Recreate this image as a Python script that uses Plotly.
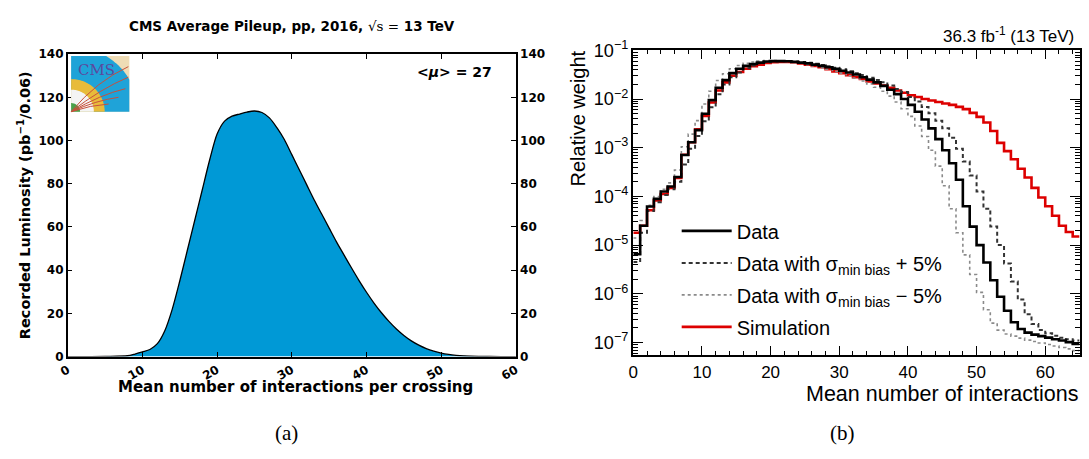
import math
import plotly.graph_objects as go

W, H = 1089, 459

# ---------------- Panel (a): average pileup ----------------
lumi_mu = [0, 5, 8, 9, 10, 11, 12, 13, 14, 15, 16, 17, 18, 19, 20, 21, 22, 23, 24, 25,
           26, 27, 28, 29, 30, 31, 32, 33, 34, 35, 36, 37, 38, 39, 40, 41, 42, 43, 44,
           45, 46, 47, 48, 49, 50, 51, 52, 53, 55, 58, 60]
lumi_val = [0, 0.1, 0.4, 1.2, 2.2, 3.3, 6.0, 12, 22, 35, 49, 63, 77, 91, 103, 109, 111.3,
            112.3, 113.2, 113.7, 113, 110.5, 106, 100.5, 93.5, 86.5, 79.5, 72.5, 66, 59.5,
            53, 47, 41, 35.2, 29.8, 24.8, 20.3, 16.3, 12.8, 9.8, 7.3, 5.3, 3.7, 2.5, 1.6,
            1.0, 0.6, 0.35, 0.12, 0.02, 0]
a_xticks = [0, 10, 20, 30, 40, 50, 60]
a_yticks = [0, 20, 40, 60, 80, 100, 120, 140]

# ---------------- Panel (b): relative weights ----------------
bin_edges = list(range(0, 66))
data_w = [6.5e-6, 2.5e-5, 6.2e-5, 8.9e-5, 1.26e-4, 1.6e-4, 2.5e-4, 7.1e-4, 1.3e-3, 2.3e-3,
          5.0e-3, 9.5e-3, 1.7e-2, 2.45e-2, 3.4e-2, 4.2e-2, 4.8e-2, 5.25e-2, 5.6e-2, 5.9e-2,
          6.0e-2, 6.0e-2, 5.95e-2, 5.8e-2, 5.6e-2, 5.4e-2, 5.1e-2, 4.8e-2, 4.5e-2, 4.2e-2,
          3.8e-2, 3.5e-2, 3.2e-2, 2.8e-2, 2.5e-2, 2.2e-2, 1.86e-2, 1.55e-2, 1.26e-2, 1.0e-2,
          7.6e-3, 5.5e-3, 3.8e-3, 2.5e-3, 1.5e-3, 8.9e-4, 4.8e-4, 2.2e-4, 6.3e-5, 2.4e-5,
          1.0e-5, 4.4e-6, 1.9e-6, 8.7e-7, 4.5e-7, 2.6e-7, 1.9e-7, 1.6e-7, 1.45e-7, 1.35e-7,
          1.26e-7, 1.17e-7, 1.1e-7, 1.02e-7, 9.3e-8]
plus5_w = [4.5e-6, 1.8e-5, 5.0e-5, 7.6e-5, 1.07e-4, 1.4e-4, 2.0e-4, 4.5e-4, 9.5e-4, 1.74e-3,
           3.5e-3, 6.8e-3, 1.26e-2, 2.0e-2, 2.8e-2, 3.5e-2, 4.3e-2, 4.9e-2, 5.4e-2, 5.7e-2,
           5.9e-2, 5.95e-2, 5.95e-2, 5.9e-2, 5.75e-2, 5.55e-2, 5.3e-2, 5.0e-2, 4.7e-2, 4.4e-2,
           4.1e-2, 3.7e-2, 3.4e-2, 3.1e-2, 2.75e-2, 2.45e-2, 2.2e-2, 1.9e-2, 1.6e-2, 1.4e-2,
           1.1e-2, 8.9e-3, 6.9e-3, 5.1e-3, 3.6e-3, 2.5e-3, 1.6e-3, 9.5e-4, 5.2e-4, 2.7e-4,
           1.26e-4, 5.6e-5, 2.4e-5, 1.0e-5, 4.2e-6, 1.8e-6, 7.6e-7, 3.8e-7, 2.4e-7, 1.8e-7,
           1.55e-7, 1.38e-7, 1.26e-7, 1.17e-7, 1.1e-7]
minus5_w = [1.4e-5, 3.2e-5, 6.6e-5, 1.0e-4, 1.4e-4, 1.9e-4, 3.5e-4, 1.05e-3, 1.9e-3, 3.6e-3,
            7.9e-3, 1.45e-2, 2.4e-2, 3.3e-2, 4.2e-2, 4.9e-2, 5.4e-2, 5.75e-2, 6.0e-2, 6.15e-2,
            6.15e-2, 6.1e-2, 5.9e-2, 5.7e-2, 5.45e-2, 5.1e-2, 4.8e-2, 4.4e-2, 4.1e-2, 3.7e-2,
            3.4e-2, 3.0e-2, 2.7e-2, 2.35e-2, 2.05e-2, 1.75e-2, 1.45e-2, 1.15e-2, 8.7e-3, 6.3e-3,
            4.4e-3, 2.8e-3, 1.7e-3, 8.9e-4, 4.2e-4, 1.66e-4, 5.6e-5, 1.8e-5, 6.3e-6, 2.5e-6,
            1.07e-6, 4.7e-7, 2.5e-7, 1.8e-7, 1.5e-7, 1.35e-7, 1.23e-7, 1.12e-7, 1.05e-7, 9.8e-8,
            9.1e-8, 8.5e-8, 7.9e-8, 7.4e-8, 6.8e-8]
sim_w = [1.8e-5, 2.5e-5, 5.2e-5, 8.3e-5, 1.12e-4, 1.5e-4, 2.4e-4, 7.2e-4, 1.3e-3, 2.4e-3,
         4.5e-3, 8.5e-3, 1.5e-2, 2.2e-2, 3.0e-2, 3.6e-2, 4.2e-2, 4.7e-2, 5.1e-2, 5.5e-2,
         5.7e-2, 5.8e-2, 5.8e-2, 5.7e-2, 5.4e-2, 5.1e-2, 4.8e-2, 4.5e-2, 4.1e-2, 3.7e-2,
         3.4e-2, 3.1e-2, 2.8e-2, 2.6e-2, 2.3e-2, 2.1e-2, 1.9e-2, 1.7e-2, 1.5e-2, 1.35e-2,
         1.2e-2, 1.1e-2, 1.0e-2, 9.3e-3, 8.7e-3, 8.1e-3, 7.6e-3, 6.9e-3, 6.2e-3, 5.2e-3,
         4.3e-3, 3.3e-3, 2.2e-3, 1.26e-3, 8.5e-4, 5.8e-4, 3.7e-4, 2.45e-4, 1.5e-4, 9.5e-5,
         6.3e-5, 4.0e-5, 2.5e-5, 1.86e-5, 1.5e-5]
b_xticks = [0, 10, 20, 30, 40, 50, 60]

# ---------------- geometry helpers (pixels -> paper) ----------------
def px(x):
    return x / W

def py(y):
    return 1 - y / H

A_X0, A_X1, A_Y0, A_Y1 = 58.5, 513, 44, 359.5
B_X0, B_X1, B_Y0, B_Y1 = 632, 1084.5, 40, 358

fig = go.Figure()

# Panel (a) filled curve
fig.add_trace(go.Scatter(
    x=lumi_mu, y=lumi_val, mode="lines", fill="tozeroy",
    fillcolor="#0099d6", line=dict(color="black", width=1.3, shape="spline", smoothing=0.8),
    xaxis="x", yaxis="y", showlegend=False, hoverinfo="skip"))
# invisible trace for the right-hand y axis of panel (a)
fig.add_trace(go.Scatter(x=[0], y=[0], mode="markers", marker=dict(opacity=0),
                         xaxis="x", yaxis="y2", showlegend=False, hoverinfo="skip"))

# Panel (b) step histograms
def steps(vals):
    return list(vals) + [vals[-1]]

series = [
    ("Simulation", sim_w, dict(color="#dd0000", width=2.6), 4),
    ("Data with σ<sub>min bias</sub> − 5%", minus5_w, dict(color="#8a8a8a", width=1.6, dash="dot"), 3),
    ("Data with σ<sub>min bias</sub> + 5%", plus5_w, dict(color="#333333", width=2.0, dash="4px,3px"), 2),
    ("Data", data_w, dict(color="black", width=2.6), 1),
]
for name, vals, ln, rank in series:
    fig.add_trace(go.Scatter(
        x=bin_edges, y=steps(vals), mode="lines", name=name, legendgroup=f"g{rank}",
        line=dict(shape="hv", **ln), xaxis="x3", yaxis="y3", legendrank=rank,
        hoverinfo="skip"))

bold_dv = dict(family="DejaVu Sans", size=12, color="black", weight="bold")
helv = "Liberation Sans"

fig.update_layout(
    width=W, height=H, margin=dict(l=0, r=0, t=0, b=0),
    paper_bgcolor="white", plot_bgcolor="white",
    xaxis=dict(domain=[px(A_X0), px(A_X1)], range=[0, 60], tickvals=a_xticks,
               ticks="inside", ticklen=5, tickwidth=1, tickcolor="black",
               showline=True, linecolor="black", linewidth=1.5, mirror="ticks",
               showgrid=False, zeroline=False, tickangle=-30, tickfont=bold_dv,
               anchor="y"),
    yaxis=dict(domain=[py(A_Y1), py(A_Y0)], range=[0, 140], tickvals=a_yticks,
               ticks="inside", ticklen=5, tickcolor="black",
               showline=True, linecolor="black", linewidth=1.5,
               showgrid=False, zeroline=False, tickfont=bold_dv, anchor="x"),
    yaxis2=dict(domain=[py(A_Y1), py(A_Y0)], range=[0, 140], tickvals=a_yticks,
                overlaying="y", side="right", anchor="x",
                ticks="inside", ticklen=5, tickcolor="black",
                showline=True, linecolor="black", linewidth=1.5,
                showgrid=False, zeroline=False, tickfont=bold_dv),
    xaxis3=dict(domain=[px(B_X0), px(B_X1)], range=[0, 65], tickvals=b_xticks,
                ticks="inside", ticklen=9, tickwidth=1.3, tickcolor="black",
                minor=dict(dtick=2, tick0=0, ticks="inside", ticklen=4, tickcolor="black"),
                showline=True, linecolor="black", linewidth=2, mirror="allticks",
                showgrid=False, zeroline=False, anchor="y3",
                tickfont=dict(family=helv, size=17, color="black")),
    yaxis3=dict(domain=[py(B_Y1), py(B_Y0)], type="log", range=[-7.26, -1.0],
                dtick=1, exponentformat="power",
                ticks="inside", ticklen=10, tickwidth=1.3, tickcolor="black",
                minor=dict(dtick="D1", ticks="inside", ticklen=5, tickcolor="black"),
                showline=True, linecolor="black", linewidth=2, mirror="allticks",
                showgrid=False, zeroline=False, anchor="x3",
                tickfont=dict(family=helv, size=14.5, color="black")),
    legend=dict(x=px(676), y=py(208), xanchor="left", yanchor="top",
                font=dict(family=helv, size=20, color="black"),
                bgcolor="rgba(0,0,0,0)", itemwidth=50, tracegroupgap=3),
)

ann = []
# Panel (a) texts
ann.append(dict(x=px((A_X0 + A_X1) / 2), y=py(15), xref="paper", yref="paper",
                text="CMS Average Pileup, pp, 2016, <span style='font-family:DejaVu Serif;font-weight:normal'>√s =</span> 13 TeV",
                showarrow=False, xanchor="center", yanchor="middle",
                font=dict(family="DejaVu Sans", size=13.5, color="black", weight="bold")))
ann.append(dict(x=px(15), y=py((A_Y0 + A_Y1) / 2), xref="paper", yref="paper",
                text="Recorded Luminosity (pb<sup>−1</sup>/0.06)", textangle=-90,
                showarrow=False, xanchor="center", yanchor="middle",
                font=dict(family="DejaVu Sans", size=14.5, color="black", weight="bold")))
ann.append(dict(x=px(289), y=py(391), xref="paper", yref="paper",
                text="Mean number of interactions per crossing",
                showarrow=False, xanchor="center", yanchor="middle",
                font=dict(family="DejaVu Sans", size=15, color="black", weight="bold")))
ann.append(dict(x=px(491), y=py(63), xref="paper", yref="paper",
                text="<<i>μ</i>> = 27", showarrow=False, xanchor="right", yanchor="middle",
                font=dict(family="DejaVu Sans", size=14, color="black", weight="bold")))
ann.append(dict(x=px(67), y=py(60), xref="paper", yref="paper",
                text="CMS", showarrow=False, xanchor="left", yanchor="middle",
                font=dict(family="DejaVu Serif", size=15, color="#5b4a9e")))
# Panel (b) texts
ann.append(dict(x=px(1081), y=py(24), xref="paper", yref="paper",
                text="36.3 fb<sup>-1</sup> (13 TeV)", showarrow=False,
                xanchor="right", yanchor="middle",
                font=dict(family=helv, size=17, color="black")))
ann.append(dict(x=px(576), y=py(38), xref="paper", yref="paper",
                text="Relative weight", textangle=-90, showarrow=False,
                xanchor="center", yanchor="top",
                font=dict(family=helv, size=20, color="black")))
ann.append(dict(x=px(1085), y=py(399), xref="paper", yref="paper",
                text="Mean number of interactions", showarrow=False,
                xanchor="right", yanchor="middle",
                font=dict(family=helv, size=21.5, color="black")))
# sub-figure captions
ann.append(dict(x=px(280), y=py(439), xref="paper", yref="paper", text="(a)",
                showarrow=False, xanchor="center", yanchor="middle",
                font=dict(family="Liberation Serif", size=21, color="black")))
ann.append(dict(x=px(844), y=py(439), xref="paper", yref="paper", text="(b)",
                showarrow=False, xanchor="center", yanchor="middle",
                font=dict(family="Liberation Serif", size=21, color="black")))
fig.update_layout(annotations=ann)

# ---------------- CMS logo (drawn with shapes) ----------------
LX0, LX1, LY0, LY1 = 62, 121, 46, 104

def sector(r, n=40):
    pts = [(LX0, LY1)]
    for i in range(n + 1):
        t = math.pi / 2 * i / n
        x = min(LX0 + r * math.cos(t), LX1)
        y = max(LY1 - r * math.sin(t), LY0)
        pts.append((x, y))
    return "M " + " L ".join(f"{px(a):.5f},{py(b):.5f}" for a, b in pts) + " Z"

shapes = [dict(type="rect", xref="paper", yref="paper", x0=px(LX0), x1=px(LX1),
               y0=py(LY1), y1=py(LY0), fillcolor="#efdcb5", line=dict(width=0), layer="above")]
for r, col in [(68, "#1fa3d8"), (34, "#e8bb3a"), (23, "#f4f4f4"), (9, "#4aa04a")]:
    shapes.append(dict(type="path", xref="paper", yref="paper", path=sector(r),
                       fillcolor=col, line=dict(width=0), layer="above"))
for (ex, ey, cx, cy) in [(120, 57, 88, 72), (120, 68, 92, 80), (117, 80, 92, 86),
                         (110, 89, 88, 92), (100, 96, 82, 97)]:
    shapes.append(dict(type="path", xref="paper", yref="paper",
                       path=f"M {px(LX0):.5f},{py(LY1):.5f} Q {px(cx):.5f},{py(cy):.5f} {px(ex):.5f},{py(ey):.5f}",
                       line=dict(color="#c8503c", width=1), layer="above"))
fig.update_layout(shapes=shapes)

fig.write_html("out.html")
